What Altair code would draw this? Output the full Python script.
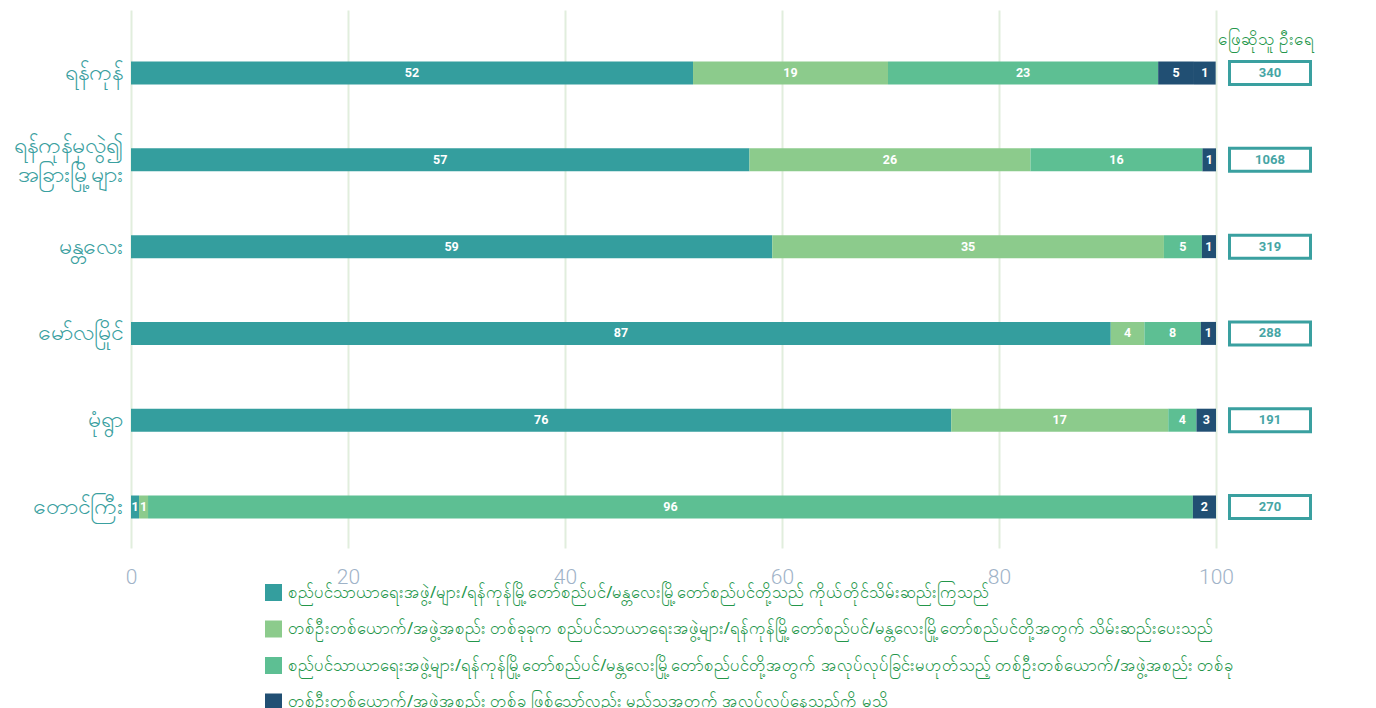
import altair as alt
import pandas as pd

categories = ["ရန်ကုန်", "ရန်ကုန်မှလွဲ၍\nအခြားမြို့များ", "မန္တလေး", "မော်လမြိုင်", "မုံရွာ", "တောင်ကြီး"]
counts = [340, 1068, 319, 288, 191, 270]

series = [
    "စည်ပင်သာယာရေးအဖွဲ့/များ/ရန်ကုန်မြို့တော်စည်ပင်/မန္တလေးမြို့တော်စည်ပင်တို့သည် ကိုယ်တိုင်သိမ်းဆည်းကြသည်",
    "တစ်ဦးတစ်ယောက်/အဖွဲ့အစည်း တစ်ခုခုက စည်ပင်သာယာရေးအဖွဲ့များ/ရန်ကုန်မြို့တော်စည်ပင်/မန္တလေးမြို့တော်စည်ပင်တို့အတွက် သိမ်းဆည်းပေးသည်",
    "စည်ပင်သာယာရေးအဖွဲ့များ/ရန်ကုန်မြို့တော်စည်ပင်/မန္တလေးမြို့တော်စည်ပင်တို့အတွက် အလုပ်လုပ်ခြင်းမဟုတ်သည့် တစ်ဦးတစ်ယောက်/အဖွဲ့အစည်း တစ်ခု",
    "တစ်ဦးတစ်ယောက်/အဖွဲ့အစည်း တစ်ခု ဖြစ်သော်လည်း မည်သူ့အတွက် အလုပ်လုပ်နေသည်ကို မသိ",
    "အခြား",
]
colors = ["#349e9e", "#8ccb8c", "#5dbf93", "#214f73", "#214f73"]

# segment widths (percent)
w1 = [51.8, 57.0, 59.1, 90.3, 75.6, 0.74]
w2 = [17.97, 25.9, 36.1, 3.1, 20.0, 0.83]
w3 = [24.9, 15.85, 3.5, 5.2, 2.6, 96.3]
w4 = [3.3, 1.25, 1.3, 1.4, 1.8, 2.13]
w5 = [2.0, 0, 0, 0, 0, 0]
# printed labels
l1 = ["52", "57", "59", "87", "76", "1"]
l2 = ["19", "26", "35", "4", "17", "1"]
l3 = ["23", "16", "5", "8", "4", "96"]
l4 = ["5", "1", "1", "1", "3", "2"]
l5 = ["1", "", "", "", "", ""]

header = "ဖြေဆိုသူ ဦးရေ"

rows = []
for si, (ws, ls) in enumerate(zip([w1, w2, w3, w4, w5], [l1, l2, l3, l4, l5])):
    for ci, cat in enumerate(categories):
        if ws[ci] > 0:
            rows.append({"cat": cat, "series": series[si], "order": si, "value": ws[ci], "label": ls[ci]})
df = pd.DataFrame(rows)
cdf = pd.DataFrame({"cat": categories, "count": counts})

yscale = alt.Scale(domain=categories, paddingInner=0.735, paddingOuter=0.467, align=0.636)
yenc = alt.Y("cat:N", scale=yscale, sort=categories, title=None,
             axis=alt.Axis(labelExpr="split(datum.label, '\\n')", labelFontSize=23,
                           labelColor="#3aa0a0", labelPadding=9, labelLineHeight=29,
                           labelOffset={"condition": {"test": "indexof(datum.value, '\\n') >= 0", "value": -14}, "value": 0},
                           labelFont="Noto Sans", domain=False, ticks=False, labelLimit=300))

base = alt.Chart(df).transform_stack(
    stack="value", groupby=["cat"], as_=["x0", "x1"], sort=[alt.SortField("order")]
).transform_calculate(mid="(datum.x0 + datum.x1) / 2")

bars = base.mark_bar(size=23).encode(
    y=yenc,
    x=alt.X("x0:Q", scale=alt.Scale(domain=[0, 100], nice=False),
            axis=alt.Axis(values=[0, 20, 40, 60, 80, 100], labelFontSize=21, labelColor="#9fb3c8",
                          labelFont="Roboto", labelFontWeight=300, labelPadding=18, labelFlush=False,
                          grid=True, gridColor="#e1eedd", gridWidth=2, domain=False, ticks=False),
            title=None),
    x2="x1:Q",
    color=alt.Color("series:N", scale=alt.Scale(domain=series, range=colors),
                    legend=alt.Legend(values=series[:4], title=None, orient="none",
                                      legendX=134, legendY=574, direction="vertical",
                                      symbolType="square", symbolSize=289, symbolStrokeWidth=0,
                                      symbolOpacity=1, labelFontSize=16.5, labelColor="#23964a",
                                      labelFont="Noto Sans", labelLimit=1200, rowPadding=19.5,
                                      gridAlign="all", labelOffset=6)),
)

labels = base.mark_text(color="white", fontSize=12.5, fontWeight="bold", font="Roboto").encode(
    y=alt.Y("cat:N", scale=yscale, sort=categories),
    x="mid:Q",
    text="label:N",
)

main = alt.layer(bars, labels).properties(width=1085, height=538)

cbase = alt.Chart(cdf)
boxes = cbase.mark_bar(size=23, fill="white", stroke="#3aa0a0", strokeWidth=3).encode(
    y=alt.Y("cat:N", scale=yscale, sort=categories, axis=None),
    x=alt.value(1.5), x2=alt.value(82.5),
)
nums = cbase.mark_text(color="#46a5a5", fontSize=13, fontWeight="bold", font="Roboto").encode(
    y=alt.Y("cat:N", scale=yscale, sort=categories, axis=None),
    x=alt.value(42), text="count:N",
)
head = alt.Chart(pd.DataFrame({"t": [header]})).mark_text(
    color="#23964a", fontSize=17, font="Noto Sans").encode(
    x=alt.value(38), y=alt.value(30), text="t:N")
side = alt.layer(boxes, nums, head).properties(width=84, height=538)

chart = alt.hconcat(main, side, spacing=12, bounds="flush").resolve_scale(y="shared").configure_view(
    stroke=None).properties(padding={"left": 5, "top": 2, "right": 5, "bottom": 0})

chart.save("out.html", embed_options={"renderer": "svg", "actions": False})
